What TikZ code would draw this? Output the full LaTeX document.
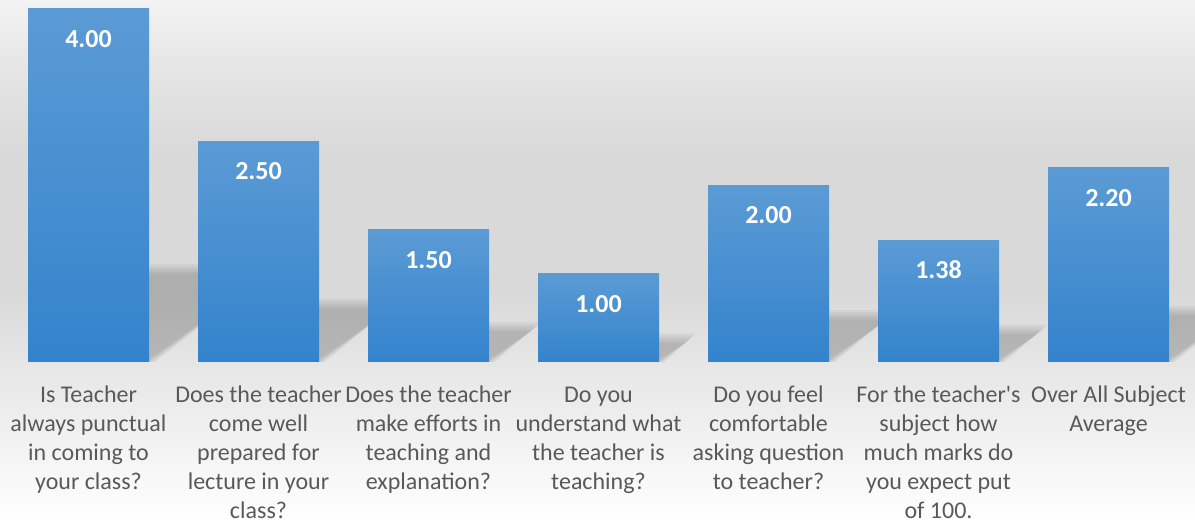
\documentclass[tikz,border=0pt]{standalone}
\usepackage{fontspec}
\setmainfont{Carlito}[Ligatures=TeXOff]
\usepackage{tikz}
\usetikzlibrary{calc}

\definecolor{barTop}{HTML}{5B9BD5}
\definecolor{barBot}{HTML}{3383CC}
\definecolor{labelGray}{HTML}{595959}
\definecolor{bgTop}{HTML}{F3F3F3}
\definecolor{bgMid}{HTML}{D9D9D9}
\definecolor{bgLow}{HTML}{E6E6E6}
\definecolor{bgFloor}{HTML}{EEEEEE}
\definecolor{shadowGray}{HTML}{404040}

% background: light at the top, grey in the middle, white at the bottom
\pgfdeclareverticalshading{bgShade}{100bp}{color(0bp)=(white); color(25bp)=(white);
  color(35bp)=(bgFloor); color(40.3bp)=(bgLow); color(47bp)=(bgMid);
  color(60.5bp)=(bgMid); color(69bp)=(bgLow); color(75bp)=(bgTop); color(100bp)=(bgTop)}

\begin{document}
\begin{tikzpicture}[x=1pt,y=1pt,
  valLabel/.style={text=white,font=\bfseries\fontsize{26}{30}\selectfont,inner sep=0pt,anchor=base},
  qLabel/.style={text=labelGray,font=\fontsize{24}{29.1}\selectfont,align=center,inner sep=0pt,anchor=north}]
% Reference grid (temporary)
%\draw[help lines,step=50] (0,0) grid (1195,522);

% Background
\useasboundingbox (0,0) rectangle (1195,522);
\shade[shading=bgShade] (0,0) rectangle (1195,522);

% Shadows behind the bars
\foreach \v [count=\i] in {4.00,2.50,1.50,1.00,2.00,1.38,2.20} {
  \pgfmathsetmacro{\xl}{28+170*(\i-1)}
  \pgfmathsetmacro{\xr}{\xl+121}
  \pgfmathsetmacro{\h}{\v*88.25}
  \foreach \s in {6,4,2,0,-2,-4} {
    \fill[shadowGray,opacity=0.05] (\xl,160) -- (\xr+\s,160)
      -- ({\xr+0.35*\h+\s},{160+0.26*\h+\s}) -- ({\xl+0.35*\h},{160+0.26*\h+\s}) -- cycle;
  }
}

% Bars and values
\foreach \v [count=\i] in {4.00,2.50,1.50,1.00,2.00,1.38,2.20} {
  \pgfmathsetmacro{\xl}{28+170*(\i-1)}
  \pgfmathsetmacro{\h}{\v*88.25}
  \shade[top color=barTop,bottom color=barBot] (\xl,160) rectangle (\xl+121,160+\h);
  \node[valLabel] (v\i) at (\xl+60.5,160+\h-38.5) {\v};
}

% Category labels
\foreach \t [count=\i] in {
  {Is Teacher\\always punctual\\in coming to\\your class?},
  {Does the teacher\\come well\\prepared for\\lecture in your\\class?},
  {Does the teacher\\make efforts in\\teaching and\\explanation?},
  {Do you\\understand what\\the teacher is\\teaching?},
  {Do you feel\\comfortable\\asking question\\to teacher?},
  {For the teacher's\\subject how\\much marks do\\you expect put\\of 100.},
  {Over All Subject\\Average}} {
  \node[qLabel] (q\i) at (88.5+170*\i-170,140.3) {\strut\t};
}

\end{tikzpicture}
\end{document}
